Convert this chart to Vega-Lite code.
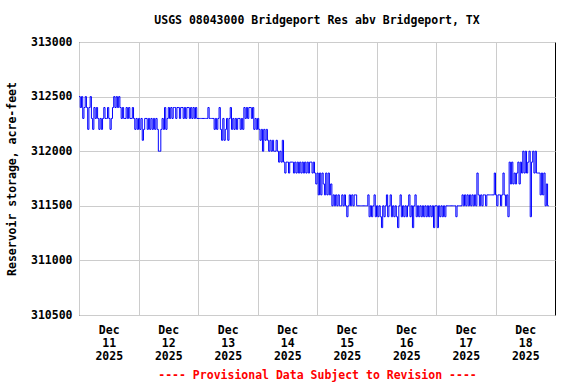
{
"$schema":"https://vega.github.io/schema/vega-lite/v6.json",
"width":476,"height":273,
"autosize":{"type":"none"},
"padding":{"left":79,"top":42,"right":21,"bottom":69},
"background":"white",
"title":{"text":"USGS 08043000 Bridgeport Res abv Bridgeport, TX","font":"DejaVu Sans Mono","fontWeight":"bold","fontSize":11.5,"color":"black","anchor":"middle","offset":10},
"data":{"values":[
{"t":"2025-12-11T00:00","v":312500},{"t":"2025-12-11T00:30","v":312400},{"t":"2025-12-11T01:00","v":312500},{"t":"2025-12-11T01:30","v":312300},{"t":"2025-12-11T02:00","v":312400},{"t":"2025-12-11T02:30","v":312500},{"t":"2025-12-11T03:00","v":312400},{"t":"2025-12-11T03:30","v":312200},{"t":"2025-12-11T04:00","v":312400},{"t":"2025-12-11T04:30","v":312500},
{"t":"2025-12-11T05:00","v":312300},{"t":"2025-12-11T05:30","v":312200},{"t":"2025-12-11T06:00","v":312400},{"t":"2025-12-11T06:30","v":312300},{"t":"2025-12-11T07:00","v":312400},{"t":"2025-12-11T07:30","v":312300},{"t":"2025-12-11T08:00","v":312200},{"t":"2025-12-11T08:30","v":312300},{"t":"2025-12-11T09:00","v":312200},{"t":"2025-12-11T09:30","v":312300},
{"t":"2025-12-11T10:00","v":312400},{"t":"2025-12-11T10:30","v":312300},{"t":"2025-12-11T11:00","v":312300},{"t":"2025-12-11T11:30","v":312400},{"t":"2025-12-11T12:00","v":312300},{"t":"2025-12-11T12:30","v":312200},{"t":"2025-12-11T13:00","v":312300},{"t":"2025-12-11T13:30","v":312400},{"t":"2025-12-11T14:00","v":312500},{"t":"2025-12-11T14:30","v":312400},
{"t":"2025-12-11T15:00","v":312500},{"t":"2025-12-11T15:30","v":312400},{"t":"2025-12-11T16:00","v":312500},{"t":"2025-12-11T16:30","v":312400},{"t":"2025-12-11T17:00","v":312300},{"t":"2025-12-11T17:30","v":312400},{"t":"2025-12-11T18:00","v":312300},{"t":"2025-12-11T18:30","v":312300},{"t":"2025-12-11T19:00","v":312400},{"t":"2025-12-11T19:30","v":312300},
{"t":"2025-12-11T20:00","v":312400},{"t":"2025-12-11T20:30","v":312300},{"t":"2025-12-11T21:00","v":312300},{"t":"2025-12-11T21:30","v":312400},{"t":"2025-12-11T22:00","v":312300},{"t":"2025-12-11T22:30","v":312200},{"t":"2025-12-11T23:00","v":312300},{"t":"2025-12-11T23:30","v":312200},
{"t":"2025-12-12T00:00","v":312300},{"t":"2025-12-12T00:30","v":312200},{"t":"2025-12-12T01:00","v":312300},{"t":"2025-12-12T01:30","v":312100},{"t":"2025-12-12T02:00","v":312200},{"t":"2025-12-12T02:30","v":312300},{"t":"2025-12-12T03:00","v":312300},{"t":"2025-12-12T03:30","v":312200},{"t":"2025-12-12T04:00","v":312300},{"t":"2025-12-12T04:30","v":312200},
{"t":"2025-12-12T05:00","v":312300},{"t":"2025-12-12T05:30","v":312200},{"t":"2025-12-12T06:00","v":312300},{"t":"2025-12-12T06:30","v":312200},{"t":"2025-12-12T07:00","v":312300},{"t":"2025-12-12T07:30","v":312200},{"t":"2025-12-12T08:00","v":312000},{"t":"2025-12-12T08:30","v":312000},{"t":"2025-12-12T09:00","v":312200},{"t":"2025-12-12T09:30","v":312300},
{"t":"2025-12-12T10:00","v":312200},{"t":"2025-12-12T10:30","v":312400},{"t":"2025-12-12T11:00","v":312200},{"t":"2025-12-12T11:30","v":312300},{"t":"2025-12-12T12:00","v":312400},{"t":"2025-12-12T12:30","v":312300},{"t":"2025-12-12T13:00","v":312400},{"t":"2025-12-12T13:30","v":312300},{"t":"2025-12-12T14:00","v":312400},{"t":"2025-12-12T14:30","v":312400},
{"t":"2025-12-12T15:00","v":312300},{"t":"2025-12-12T15:30","v":312400},{"t":"2025-12-12T16:00","v":312400},{"t":"2025-12-12T16:30","v":312300},{"t":"2025-12-12T17:00","v":312400},{"t":"2025-12-12T17:30","v":312400},{"t":"2025-12-12T18:00","v":312300},{"t":"2025-12-12T18:30","v":312400},{"t":"2025-12-12T19:00","v":312300},{"t":"2025-12-12T19:30","v":312400},
{"t":"2025-12-12T20:00","v":312400},{"t":"2025-12-12T20:30","v":312300},{"t":"2025-12-12T21:00","v":312400},{"t":"2025-12-12T21:30","v":312300},{"t":"2025-12-12T22:00","v":312400},{"t":"2025-12-12T22:30","v":312300},{"t":"2025-12-12T23:00","v":312400},{"t":"2025-12-12T23:30","v":312300},
{"t":"2025-12-13T00:00","v":312300},{"t":"2025-12-13T00:30","v":312300},{"t":"2025-12-13T01:00","v":312300},{"t":"2025-12-13T01:30","v":312300},{"t":"2025-12-13T02:00","v":312300},{"t":"2025-12-13T02:30","v":312300},{"t":"2025-12-13T03:00","v":312300},{"t":"2025-12-13T03:30","v":312300},{"t":"2025-12-13T04:00","v":312400},{"t":"2025-12-13T04:30","v":312300},
{"t":"2025-12-13T05:00","v":312300},{"t":"2025-12-13T05:30","v":312300},{"t":"2025-12-13T06:00","v":312300},{"t":"2025-12-13T06:30","v":312200},{"t":"2025-12-13T07:00","v":312300},{"t":"2025-12-13T07:30","v":312200},{"t":"2025-12-13T08:00","v":312300},{"t":"2025-12-13T08:30","v":312400},{"t":"2025-12-13T09:00","v":312200},{"t":"2025-12-13T09:30","v":312100},
{"t":"2025-12-13T10:00","v":312300},{"t":"2025-12-13T10:30","v":312100},{"t":"2025-12-13T11:00","v":312200},{"t":"2025-12-13T11:30","v":312300},{"t":"2025-12-13T12:00","v":312100},{"t":"2025-12-13T12:30","v":312300},{"t":"2025-12-13T13:00","v":312400},{"t":"2025-12-13T13:30","v":312200},{"t":"2025-12-13T14:00","v":312300},{"t":"2025-12-13T14:30","v":312200},
{"t":"2025-12-13T15:00","v":312300},{"t":"2025-12-13T15:30","v":312200},{"t":"2025-12-13T16:00","v":312300},{"t":"2025-12-13T16:30","v":312300},{"t":"2025-12-13T17:00","v":312200},{"t":"2025-12-13T17:30","v":312300},{"t":"2025-12-13T18:00","v":312200},{"t":"2025-12-13T18:30","v":312400},{"t":"2025-12-13T19:00","v":312300},{"t":"2025-12-13T19:30","v":312400},
{"t":"2025-12-13T20:00","v":312300},{"t":"2025-12-13T20:30","v":312400},{"t":"2025-12-13T21:00","v":312400},{"t":"2025-12-13T21:30","v":312300},{"t":"2025-12-13T22:00","v":312400},{"t":"2025-12-13T22:30","v":312200},{"t":"2025-12-13T23:00","v":312300},{"t":"2025-12-13T23:30","v":312200},
{"t":"2025-12-14T00:00","v":312300},{"t":"2025-12-14T00:30","v":312200},{"t":"2025-12-14T01:00","v":312100},{"t":"2025-12-14T01:30","v":312200},{"t":"2025-12-14T02:00","v":312000},{"t":"2025-12-14T02:30","v":312200},{"t":"2025-12-14T03:00","v":312100},{"t":"2025-12-14T03:30","v":312200},{"t":"2025-12-14T04:00","v":312100},{"t":"2025-12-14T04:30","v":312000},
{"t":"2025-12-14T05:00","v":312100},{"t":"2025-12-14T05:30","v":312000},{"t":"2025-12-14T06:00","v":312100},{"t":"2025-12-14T06:30","v":312000},{"t":"2025-12-14T07:00","v":312000},{"t":"2025-12-14T07:30","v":312100},{"t":"2025-12-14T08:00","v":312000},{"t":"2025-12-14T08:30","v":311900},{"t":"2025-12-14T09:00","v":312000},{"t":"2025-12-14T09:30","v":311900},
{"t":"2025-12-14T10:00","v":312100},{"t":"2025-12-14T10:30","v":311900},{"t":"2025-12-14T11:00","v":311800},{"t":"2025-12-14T11:30","v":311900},{"t":"2025-12-14T12:00","v":311900},{"t":"2025-12-14T12:30","v":311800},{"t":"2025-12-14T13:00","v":311900},{"t":"2025-12-14T13:30","v":311900},{"t":"2025-12-14T14:00","v":311900},{"t":"2025-12-14T14:30","v":311800},
{"t":"2025-12-14T15:00","v":311900},{"t":"2025-12-14T15:30","v":311800},{"t":"2025-12-14T16:00","v":311900},{"t":"2025-12-14T16:30","v":311800},{"t":"2025-12-14T17:00","v":311900},{"t":"2025-12-14T17:30","v":311800},{"t":"2025-12-14T18:00","v":311900},{"t":"2025-12-14T18:30","v":311800},{"t":"2025-12-14T19:00","v":311900},{"t":"2025-12-14T19:30","v":311800},
{"t":"2025-12-14T20:00","v":311900},{"t":"2025-12-14T20:30","v":311800},{"t":"2025-12-14T21:00","v":311900},{"t":"2025-12-14T21:30","v":311900},{"t":"2025-12-14T22:00","v":311800},{"t":"2025-12-14T22:30","v":311900},{"t":"2025-12-14T23:00","v":311800},{"t":"2025-12-14T23:30","v":311700},
{"t":"2025-12-15T00:00","v":311800},{"t":"2025-12-15T00:30","v":311600},{"t":"2025-12-15T01:00","v":311800},{"t":"2025-12-15T01:30","v":311600},{"t":"2025-12-15T02:00","v":311800},{"t":"2025-12-15T02:30","v":311700},{"t":"2025-12-15T03:00","v":311600},{"t":"2025-12-15T03:30","v":311800},{"t":"2025-12-15T04:00","v":311600},{"t":"2025-12-15T04:30","v":311800},
{"t":"2025-12-15T05:00","v":311600},{"t":"2025-12-15T05:30","v":311700},{"t":"2025-12-15T06:00","v":311500},{"t":"2025-12-15T06:30","v":311600},{"t":"2025-12-15T07:00","v":311500},{"t":"2025-12-15T07:30","v":311600},{"t":"2025-12-15T08:00","v":311500},{"t":"2025-12-15T08:30","v":311600},{"t":"2025-12-15T09:00","v":311500},{"t":"2025-12-15T09:30","v":311500},
{"t":"2025-12-15T10:00","v":311600},{"t":"2025-12-15T10:30","v":311500},{"t":"2025-12-15T11:00","v":311600},{"t":"2025-12-15T11:30","v":311500},{"t":"2025-12-15T12:00","v":311400},{"t":"2025-12-15T12:30","v":311500},{"t":"2025-12-15T13:00","v":311600},{"t":"2025-12-15T13:30","v":311500},{"t":"2025-12-15T14:00","v":311600},{"t":"2025-12-15T14:30","v":311500},
{"t":"2025-12-15T15:00","v":311600},{"t":"2025-12-15T15:30","v":311600},{"t":"2025-12-15T16:00","v":311500},{"t":"2025-12-15T16:30","v":311500},{"t":"2025-12-15T17:00","v":311500},{"t":"2025-12-15T17:30","v":311500},{"t":"2025-12-15T18:00","v":311500},{"t":"2025-12-15T18:30","v":311500},{"t":"2025-12-15T19:00","v":311500},{"t":"2025-12-15T19:30","v":311500},
{"t":"2025-12-15T20:00","v":311500},{"t":"2025-12-15T20:30","v":311600},{"t":"2025-12-15T21:00","v":311400},{"t":"2025-12-15T21:30","v":311500},{"t":"2025-12-15T22:00","v":311400},{"t":"2025-12-15T22:30","v":311500},{"t":"2025-12-15T23:00","v":311600},{"t":"2025-12-15T23:30","v":311400},
{"t":"2025-12-16T00:00","v":311500},{"t":"2025-12-16T00:30","v":311400},{"t":"2025-12-16T01:00","v":311500},{"t":"2025-12-16T01:30","v":311400},{"t":"2025-12-16T02:00","v":311300},{"t":"2025-12-16T02:30","v":311500},{"t":"2025-12-16T03:00","v":311400},{"t":"2025-12-16T03:30","v":311500},{"t":"2025-12-16T04:00","v":311600},{"t":"2025-12-16T04:30","v":311400},
{"t":"2025-12-16T05:00","v":311500},{"t":"2025-12-16T05:30","v":311600},{"t":"2025-12-16T06:00","v":311400},{"t":"2025-12-16T06:30","v":311500},{"t":"2025-12-16T07:00","v":311400},{"t":"2025-12-16T07:30","v":311500},{"t":"2025-12-16T08:00","v":311400},{"t":"2025-12-16T08:30","v":311300},{"t":"2025-12-16T09:00","v":311500},{"t":"2025-12-16T09:30","v":311600},
{"t":"2025-12-16T10:00","v":311400},{"t":"2025-12-16T10:30","v":311500},{"t":"2025-12-16T11:00","v":311400},{"t":"2025-12-16T11:30","v":311500},{"t":"2025-12-16T12:00","v":311400},{"t":"2025-12-16T12:30","v":311500},{"t":"2025-12-16T13:00","v":311600},{"t":"2025-12-16T13:30","v":311400},{"t":"2025-12-16T14:00","v":311500},{"t":"2025-12-16T14:30","v":311300},
{"t":"2025-12-16T15:00","v":311500},{"t":"2025-12-16T15:30","v":311600},{"t":"2025-12-16T16:00","v":311400},{"t":"2025-12-16T16:30","v":311500},{"t":"2025-12-16T17:00","v":311400},{"t":"2025-12-16T17:30","v":311500},{"t":"2025-12-16T18:00","v":311400},{"t":"2025-12-16T18:30","v":311500},{"t":"2025-12-16T19:00","v":311400},{"t":"2025-12-16T19:30","v":311500},
{"t":"2025-12-16T20:00","v":311400},{"t":"2025-12-16T20:30","v":311500},{"t":"2025-12-16T21:00","v":311400},{"t":"2025-12-16T21:30","v":311500},{"t":"2025-12-16T22:00","v":311400},{"t":"2025-12-16T22:30","v":311500},{"t":"2025-12-16T23:00","v":311300},{"t":"2025-12-16T23:30","v":311500},
{"t":"2025-12-17T00:00","v":311500},{"t":"2025-12-17T00:30","v":311300},{"t":"2025-12-17T01:00","v":311500},{"t":"2025-12-17T01:30","v":311400},{"t":"2025-12-17T02:00","v":311500},{"t":"2025-12-17T02:30","v":311400},{"t":"2025-12-17T03:00","v":311500},{"t":"2025-12-17T03:30","v":311400},{"t":"2025-12-17T04:00","v":311500},{"t":"2025-12-17T04:30","v":311500},
{"t":"2025-12-17T05:00","v":311500},{"t":"2025-12-17T05:30","v":311500},{"t":"2025-12-17T06:00","v":311500},{"t":"2025-12-17T06:30","v":311500},{"t":"2025-12-17T07:00","v":311500},{"t":"2025-12-17T07:30","v":311500},{"t":"2025-12-17T08:00","v":311400},{"t":"2025-12-17T08:30","v":311500},{"t":"2025-12-17T09:00","v":311500},{"t":"2025-12-17T09:30","v":311500},
{"t":"2025-12-17T10:00","v":311500},{"t":"2025-12-17T10:30","v":311600},{"t":"2025-12-17T11:00","v":311500},{"t":"2025-12-17T11:30","v":311600},{"t":"2025-12-17T12:00","v":311500},{"t":"2025-12-17T12:30","v":311600},{"t":"2025-12-17T13:00","v":311500},{"t":"2025-12-17T13:30","v":311600},{"t":"2025-12-17T14:00","v":311500},{"t":"2025-12-17T14:30","v":311600},
{"t":"2025-12-17T15:00","v":311500},{"t":"2025-12-17T15:30","v":311600},{"t":"2025-12-17T16:00","v":311500},{"t":"2025-12-17T16:30","v":311800},{"t":"2025-12-17T17:00","v":311600},{"t":"2025-12-17T17:30","v":311500},{"t":"2025-12-17T18:00","v":311600},{"t":"2025-12-17T18:30","v":311500},{"t":"2025-12-17T19:00","v":311600},{"t":"2025-12-17T19:30","v":311600},
{"t":"2025-12-17T20:00","v":311500},{"t":"2025-12-17T20:30","v":311600},{"t":"2025-12-17T21:00","v":311600},{"t":"2025-12-17T21:30","v":311600},{"t":"2025-12-17T22:00","v":311600},{"t":"2025-12-17T22:30","v":311600},{"t":"2025-12-17T23:00","v":311600},{"t":"2025-12-17T23:30","v":311800},
{"t":"2025-12-18T00:00","v":311600},{"t":"2025-12-18T00:30","v":311500},{"t":"2025-12-18T01:00","v":311600},{"t":"2025-12-18T01:30","v":311600},{"t":"2025-12-18T02:00","v":311500},{"t":"2025-12-18T02:30","v":311600},{"t":"2025-12-18T03:00","v":311800},{"t":"2025-12-18T03:30","v":311600},{"t":"2025-12-18T04:00","v":311500},{"t":"2025-12-18T04:30","v":311600},
{"t":"2025-12-18T05:00","v":311400},{"t":"2025-12-18T05:30","v":311900},{"t":"2025-12-18T06:00","v":311700},{"t":"2025-12-18T06:30","v":311900},{"t":"2025-12-18T07:00","v":311700},{"t":"2025-12-18T07:30","v":311800},{"t":"2025-12-18T08:00","v":311700},{"t":"2025-12-18T08:30","v":311800},{"t":"2025-12-18T09:00","v":311900},{"t":"2025-12-18T09:30","v":311700},
{"t":"2025-12-18T10:00","v":311900},{"t":"2025-12-18T10:30","v":311800},{"t":"2025-12-18T11:00","v":312000},{"t":"2025-12-18T11:30","v":311800},{"t":"2025-12-18T12:00","v":312000},{"t":"2025-12-18T12:30","v":311800},{"t":"2025-12-18T13:00","v":311900},{"t":"2025-12-18T13:30","v":312000},{"t":"2025-12-18T14:00","v":311400},{"t":"2025-12-18T14:30","v":311900},
{"t":"2025-12-18T15:00","v":312000},{"t":"2025-12-18T15:30","v":311800},{"t":"2025-12-18T16:00","v":312000},{"t":"2025-12-18T16:30","v":311800},{"t":"2025-12-18T17:00","v":311800},{"t":"2025-12-18T17:30","v":311800},{"t":"2025-12-18T18:00","v":311600},{"t":"2025-12-18T18:30","v":311800},{"t":"2025-12-18T19:00","v":311600},{"t":"2025-12-18T19:30","v":311800},
{"t":"2025-12-18T20:00","v":311500},{"t":"2025-12-18T20:30","v":311700},{"t":"2025-12-18T21:00","v":311500},{"t":"2025-12-18T21:30","v":311500}
]},
"mark":{"type":"line","interpolate":"step-after","color":"#0000ff","strokeWidth":1},
"encoding":{
"x":{"field":"t","type":"temporal",
"scale":{"domain":[{"year":2025,"month":12,"date":11},{"year":2025,"month":12,"date":19}]},
"axis":{"values":[{"year":2025,"month":12,"date":11},{"year":2025,"month":12,"date":12},{"year":2025,"month":12,"date":13},{"year":2025,"month":12,"date":14},{"year":2025,"month":12,"date":15},{"year":2025,"month":12,"date":16},{"year":2025,"month":12,"date":17},{"year":2025,"month":12,"date":18}],
"labelExpr":"[timeFormat(datum.value,'%b'),timeFormat(datum.value,'%d'),timeFormat(datum.value,'%Y')]",
"labelOffset":29.75,"ticks":false,"domain":false,"grid":true,"gridColor":"#cccccc","gridOpacity":1,
"labelAlign":"center","labelBaseline":"top","labelPadding":9,"labelLineHeight":13,
"labelFont":"DejaVu Sans Mono","labelFontWeight":"bold","labelFontSize":11.5,"labelColor":"black",
"labelFlush":false,"labelOverlap":false,"labelBound":false,
"title":"---- Provisional Data Subject to Revision ----","titleColor":"#ff0000","titleFont":"DejaVu Sans Mono","titleFontWeight":"bold","titleFontSize":11.5,"titlePadding":8}},
"y":{"field":"v","type":"quantitative",
"scale":{"domain":[310500,313000],"nice":false,"zero":false},
"axis":{"values":[310500,311000,311500,312000,312500,313000],"format":"d","ticks":false,"domain":false,"grid":true,"gridColor":"#cccccc","gridOpacity":1,
"labelPadding":7,"labelFont":"DejaVu Sans Mono","labelFontWeight":"bold","labelFontSize":11.5,"labelColor":"black",
"title":"Reservoir storage, acre-feet","titleFont":"DejaVu Sans Mono","titleFontWeight":"bold","titleFontSize":11.5,"titleColor":"black","titlePadding":13}}
},
"config":{"view":{"stroke":"black","strokeWidth":1}}
}
